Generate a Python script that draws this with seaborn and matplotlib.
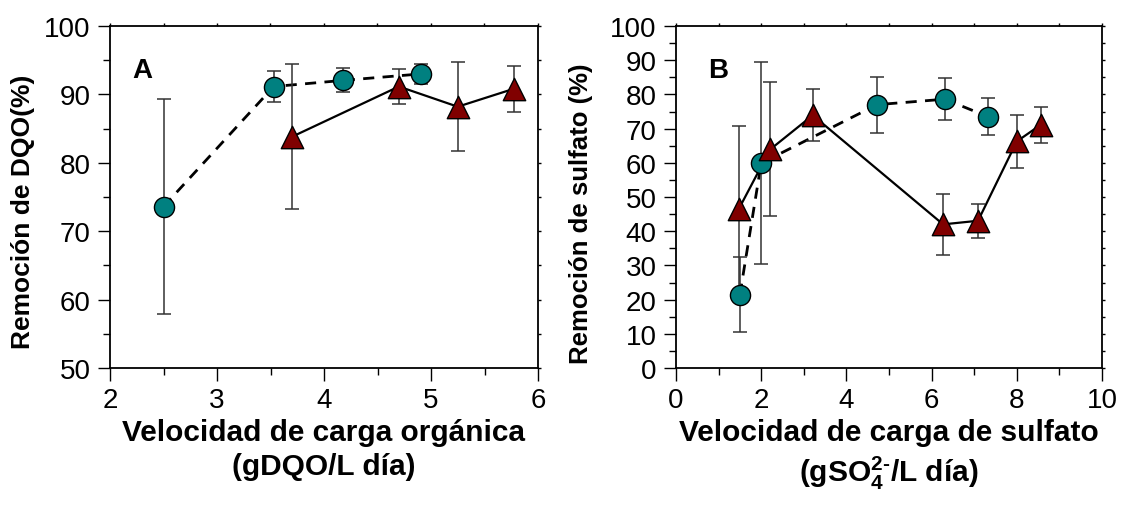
import numpy as np
import pandas as pd
import matplotlib
matplotlib.use("Agg")
import matplotlib.pyplot as plt
from matplotlib.ticker import MultipleLocator
import seaborn as sns

# ---------------- data ----------------
a_circ_x = [2.50, 3.53, 4.18, 4.91]
a_circ_y = [73.6, 91.15, 92.05, 93.0]
a_circ_err = [15.7, 2.25, 1.75, 1.5]

a_tri_x = [3.70, 4.70, 5.25, 5.78]
a_tri_y = [83.8, 91.15, 88.2, 90.85]
a_tri_err = [10.6, 2.55, 6.5, 3.35]

b_circ_x = [1.50, 2.00, 4.72, 6.31, 7.32]
b_circ_y = [21.45, 59.9, 77.0, 78.6, 73.5]
b_circ_err = [10.95, 29.5, 8.2, 6.1, 5.4]

b_tri_x = [1.47, 2.21, 3.21, 6.27, 7.09, 8.00, 8.56]
b_tri_y = [46.4, 63.9, 73.9, 42.0, 43.05, 66.25, 71.1]
b_tri_err = [24.5, 19.6, 7.6, 8.9, 4.95, 7.85, 5.3]

a_xticks = [2, 3, 4, 5, 6]
b_xticks = [0, 2, 4, 6, 8, 10]

# ---------------- style ----------------
sns.set_theme(style="ticks")
plt.rcParams["font.family"] = ["Liberation Sans", "DejaVu Sans"]
plt.rcParams["mathtext.fontset"] = "custom"
plt.rcParams["mathtext.rm"] = "Liberation Sans:bold"
plt.rcParams["mathtext.it"] = "Liberation Sans:bold"
plt.rcParams["mathtext.bf"] = "Liberation Sans:bold"
plt.rcParams["text.color"] = "black"
plt.rcParams["axes.labelcolor"] = "black"
plt.rcParams["xtick.color"] = "black"
plt.rcParams["ytick.color"] = "black"

TEAL = "#008080"
DRED = "#800000"
ERRC = "#333333"

fig = plt.figure(figsize=(11.22, 5.06), dpi=100)
W, H = 1122, 506
axA = fig.add_axes([110 / W, 1 - 369 / H, 428 / W, 342 / H])
axB = fig.add_axes([676 / W, 1 - 369 / H, 426 / W, 342 / H])


def draw(ax, cx, cy, ce, tx, ty, te):
    dc = pd.DataFrame({"x": cx, "y": cy})
    dt = pd.DataFrame({"x": tx, "y": ty})
    sns.lineplot(data=dc, x="x", y="y", ax=ax, color="black", lw=2.0,
                 linestyle=(0, (4, 3)), sort=False, zorder=2)
    sns.lineplot(data=dt, x="x", y="y", ax=ax, color="black", lw=1.6,
                 sort=False, zorder=2)
    ax.errorbar(cx, cy, yerr=ce, fmt="none", ecolor=ERRC, elinewidth=1.1,
                capsize=5, capthick=1.1, zorder=3)
    ax.errorbar(tx, ty, yerr=te, fmt="none", ecolor=ERRC, elinewidth=1.1,
                capsize=5, capthick=1.1, zorder=3)
    sns.scatterplot(data=dc, x="x", y="y", ax=ax, marker="o", s=210,
                    color=TEAL, edgecolor="black", linewidth=1.0, zorder=4)
    sns.scatterplot(data=dt, x="x", y="y", ax=ax, marker="^", s=260,
                    color=DRED, edgecolor="black", linewidth=1.0, zorder=5)


draw(axA, a_circ_x, a_circ_y, a_circ_err, a_tri_x, a_tri_y, a_tri_err)
draw(axB, b_circ_x, b_circ_y, b_circ_err, b_tri_x, b_tri_y, b_tri_err)

# axes setup
axA.set_xlim(2, 6)
axA.set_ylim(50, 100)
axA.set_xticks(a_xticks)
axA.xaxis.set_minor_locator(MultipleLocator(0.5))
axA.yaxis.set_major_locator(MultipleLocator(10))
axA.yaxis.set_minor_locator(MultipleLocator(5))

axB.set_xlim(0, 10)
axB.set_ylim(0, 100)
axB.set_xticks(b_xticks)
axB.xaxis.set_minor_locator(MultipleLocator(1))
axB.yaxis.set_major_locator(MultipleLocator(10))
axB.yaxis.set_minor_locator(MultipleLocator(5))

for ax, xstep in ((axA, 0.5), (axB, 1.0)):
    for s in ax.spines.values():
        s.set_visible(True)
        s.set_linewidth(1.3)
        s.set_color("black")
    ax.tick_params(which="major", direction="out", length=9, width=1.0,
                   labelsize=20, pad=5)
    ax.tick_params(which="minor", direction="out", length=5, width=1.0)
    ax.set_facecolor("white")
    # short ticks on top and right
    x0, x1 = ax.get_xlim()
    y0, y1 = ax.get_ylim()
    xt = np.arange(x0, x1 + 1e-9, xstep)
    yt = np.arange(y0, y1 + 1e-9, 5)
    top = ax.secondary_xaxis("top")
    top.set_xticks(xt)
    top.tick_params(direction="out", length=2.5, width=1.0, labeltop=False)
    top.spines["top"].set_visible(False)
    right = ax.secondary_yaxis("right")
    right.set_yticks(yt)
    right.tick_params(direction="out", length=2.5, width=1.0, labelright=False)
    right.spines["right"].set_visible(False)

axA.set_xlabel("Velocidad de carga orgánica\n(gDQO/L día)", fontsize=21.5,
               fontweight="bold", linespacing=1.3, labelpad=3)
axA.set_ylabel("Remoción de DQO(%)", fontsize=19, fontweight="bold")
axA.yaxis.set_label_coords(-0.176, 0.46)
axB.set_xlabel("Velocidad de carga de sulfato\n(gSO$_4^{2\\text{-}}$/L día)",
               fontsize=21.5, fontweight="bold", linespacing=1.3, labelpad=3)
axB.set_ylabel("Remoción de sulfato (%)", fontsize=18.5, fontweight="bold")
axB.yaxis.set_label_coords(-0.195, 0.455)

axA.text(0.051, 0.871, "A", transform=axA.transAxes, fontsize=20,
         fontweight="bold", va="center", ha="left")
axB.text(0.075, 0.871, "B", transform=axB.transAxes, fontsize=20,
         fontweight="bold", va="center", ha="left")

fig.patch.set_facecolor("white")
fig.savefig("out.png", dpi=100, facecolor="white")
